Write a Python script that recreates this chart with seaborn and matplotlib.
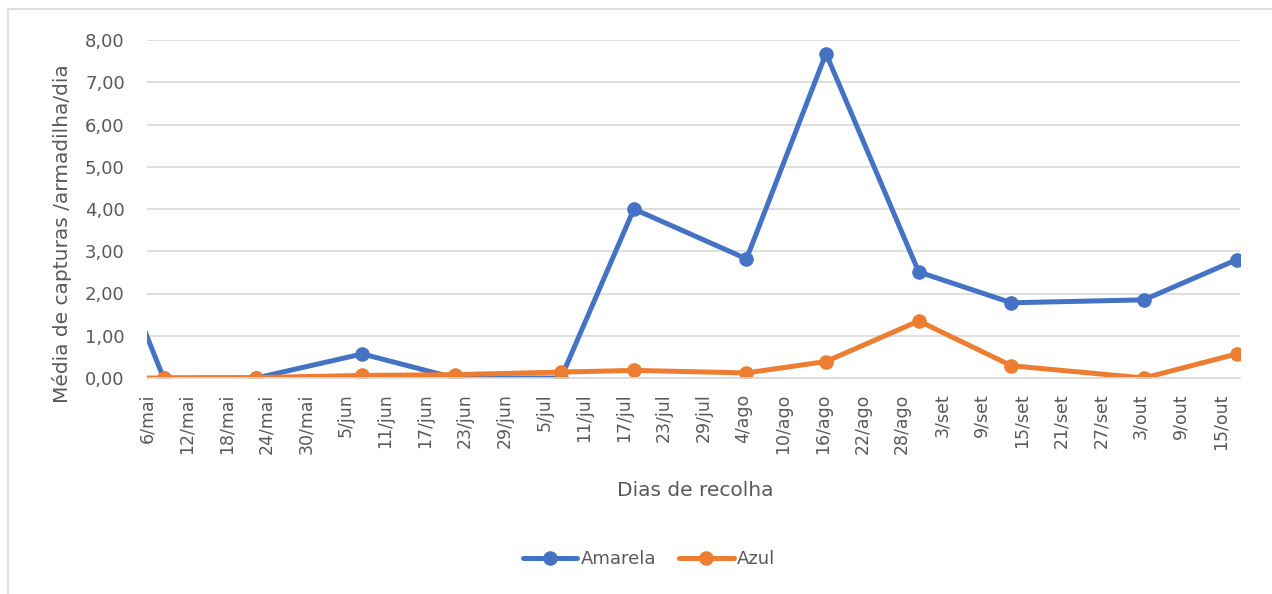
import pandas as pd
import matplotlib
matplotlib.use('Agg')
import matplotlib.pyplot as plt
from matplotlib.lines import Line2D
from matplotlib.ticker import FuncFormatter
import seaborn as sns

# 1. Dados (média de capturas por armadilha por dia)
datas = ['2020-04-24', '2020-05-08', '2020-05-22', '2020-06-07', '2020-06-21', '2020-07-07',
         '2020-07-18', '2020-08-04', '2020-08-16', '2020-08-30', '2020-09-13', '2020-10-03',
         '2020-10-17']
amarela = [5.50, 0.00, 0.00, 0.57, 0.00, 0.00, 4.00, 2.82, 7.68, 2.51, 1.78, 1.85, 2.80]
azul = [0.00, 0.00, 0.01, 0.06, 0.08, 0.14, 0.18, 0.12, 0.39, 1.35, 0.29, 0.00, 0.57]
series = ['Amarela', 'Azul']
meses = {4: 'abr', 5: 'mai', 6: 'jun', 7: 'jul', 8: 'ago', 9: 'set', 10: 'out'}
cores = {'Amarela': '#4472C4', 'Azul': '#ED7D31'}

df = pd.DataFrame({
    'data': pd.to_datetime(datas * 2),
    'valor': amarela + azul,
    'serie': ['Amarela'] * len(datas) + ['Azul'] * len(datas),
})
# pontos no meio do dia (eixo de datas "entre marcas")
df['data'] = df['data'] + pd.Timedelta(hours=12)

sns.set_style('white')
plt.rcParams['font.family'] = ['DejaVu Sans']
cinza = '#595959'
grelha = '#d9d9d9'

# 2. Figura
fig = plt.figure(figsize=(12.72, 5.94), dpi=100)
W, H = 1272, 594
ax = fig.add_axes([147 / W, 1 - 378 / H, (1240 - 147) / W, (378 - 40) / H])

# 3. Linhas
sns.lineplot(data=df, x='data', y='valor', hue='serie', hue_order=series,
             palette=cores, marker='o', markersize=10.5, markeredgewidth=0,
             linewidth=3.6, ax=ax, legend=False)

# 4. Eixos
ax.set_xlim(pd.Timestamp('2020-05-06'), pd.Timestamp('2020-10-18'))
ax.set_ylim(0, 8)
ax.set_yticks(range(0, 9))
ax.yaxis.set_major_formatter(FuncFormatter(lambda v, p: f'{v:.2f}'.replace('.', ',')))
ticks = pd.date_range('2020-05-06', '2020-10-15', freq='6D')
ax.set_xticks(ticks)
ax.set_xticklabels([f'{d.day}/{meses[d.month]}' for d in ticks], rotation=90)
ax.grid(axis='y', color=grelha, linewidth=1.2)
ax.grid(axis='x', visible=False)
for s in ['top', 'right', 'left']:
    ax.spines[s].set_visible(False)
ax.spines['bottom'].set_color(grelha)
ax.spines['bottom'].set_linewidth(1.2)
ax.tick_params(axis='x', direction='out', length=4, width=1.2, color=grelha,
               labelcolor=cinza, labelsize=12.5, pad=7)
ax.tick_params(axis='y', length=0, labelcolor=cinza, labelsize=13, pad=16)
ax.set_xlabel('')
ax.set_ylabel('')

fig.text(695 / W, 1 - 490 / H, 'Dias de recolha', ha='center', va='center',
         fontsize=14.5, color=cinza)
fig.text(62 / W, 1 - 234 / H, 'Média de capturas /armadilha/dia', ha='center', va='center',
         rotation=90, fontsize=14.5, color=cinza)

# 5. Legenda
handles = [Line2D([], [], color=cores[s], marker='o', markersize=10.5, linewidth=3.6,
                  markeredgewidth=0) for s in series]
leg = fig.legend(handles, series, loc='center', bbox_to_anchor=(649 / W, 1 - 559 / H),
                 ncol=2, frameon=False, fontsize=13, handlelength=3.0,
                 handletextpad=0.2, columnspacing=1.3)
for t in leg.get_texts():
    t.set_color(cinza)

# moldura da área do gráfico
fig.add_artist(Line2D([8 / W, 8 / W], [0, 1 - 9 / H], color=grelha, linewidth=1.2))
fig.add_artist(Line2D([8 / W, 1], [1 - 9 / H, 1 - 9 / H], color=grelha, linewidth=1.2))

plt.savefig('out.png', dpi=100)
